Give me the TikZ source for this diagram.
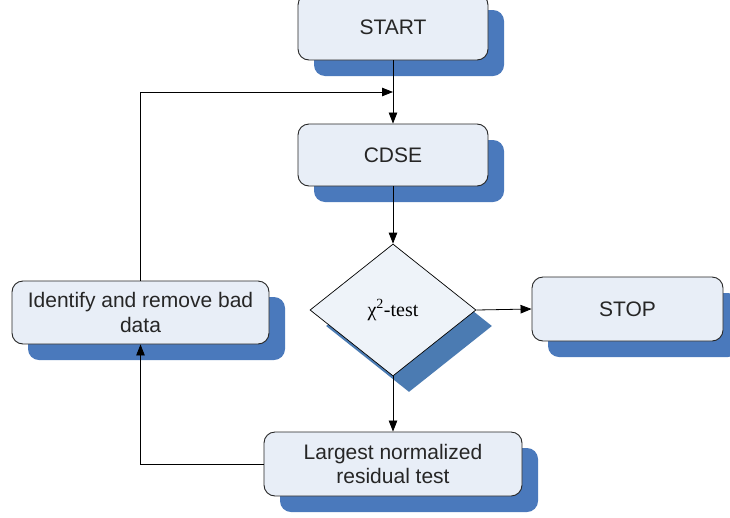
\documentclass[tikz,border=0pt]{standalone}
\usepackage{fontspec}
\setmainfont{Liberation Sans}
\newfontfamily\serifgreek{Liberation Serif}
\usetikzlibrary{arrows.meta,shapes.geometric,shadows}
\definecolor{boxfill}{HTML}{E8EEF7}
\definecolor{diafill}{HTML}{EEF3F9}
\definecolor{shadowblue}{HTML}{4A79BC}
\definecolor{diashadow}{HTML}{4B7BB2}
\tikzset{
  x=1pt, y=-1pt,
  flowbox/.style={draw=black!85, line width=0.9pt, fill=boxfill, rounded corners=11pt,
    align=center, inner sep=0pt, font=\fontsize{21}{24.5}\selectfont, text=black!85,
    general shadow={fill=shadowblue, shadow xshift=16pt, shadow yshift=-16pt}},
  decision/.style={draw=black, line width=0.7pt, fill=diafill, diamond, inner sep=0pt,
    minimum width=166pt, minimum height=132pt, aspect=1.2576,
    font=\fontsize{20}{23}\serifgreek,
    general shadow={fill=diashadow, shadow xshift=16pt, shadow yshift=-16pt}},
  link/.style={draw=black, line width=0.8pt, -{Triangle[length=11pt,width=8.5pt]}}
}
\begin{document}
\begin{tikzpicture}
\useasboundingbox (0,0) rectangle (730,517);
\fill[white] (0,0) rectangle (730,517);

\node[flowbox, minimum width=190pt, minimum height=66pt] (start) at (393,27) {START};
\node[flowbox, minimum width=190pt, minimum height=62pt] (cdse) at (393,155) {CDSE};
\node[decision] (test) at (393,310) {χ\textsuperscript{2}-test};
\node[flowbox, minimum width=191pt, minimum height=64pt] (stop) at (627.5,309) {STOP};
\node[flowbox, minimum width=258pt, minimum height=64pt] (lnr) at (393,464) {Largest normalized\\residual test};
\node[flowbox, minimum width=257pt, minimum height=63pt] (bad) at (140.5,312.5) {Identify and remove bad\\data};

\coordinate (join) at (393,92);

\draw[link] (start.south) -- (cdse.north);
\draw[link] (cdse.south) -- (test.north);
\draw[link] (test.east) -- (stop.west);
\draw[link] (test.south) -- (lnr.north);
\draw[link] (lnr.west) -| (bad.south);
\draw[link] (bad.north) |- (join);
\end{tikzpicture}
\end{document}
